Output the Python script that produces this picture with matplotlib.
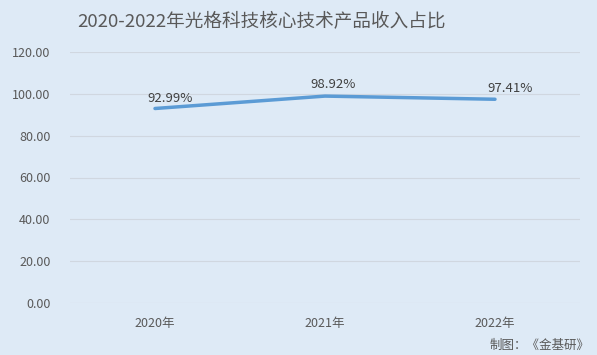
import matplotlib
matplotlib.use('Agg')
import matplotlib.pyplot as plt

plt.rcParams['font.family'] = ['Noto Sans CJK SC', 'DejaVu Sans']

years = ['2020年', '2021年', '2022年']
ratio = [92.99, 98.92, 97.41]
# data label offsets in pixels (x right, y up)
label_dx = [15, 8, 15]
label_dy = [10, 12, 11]
yticks = [0, 20, 40, 60, 80, 100, 120]

bg = '#DEEAF6'
txt = '#595959'

fig = plt.figure(figsize=(5.97, 3.55), dpi=100, facecolor=bg)
ax = fig.add_axes([70 / 597, 1 - 303 / 355, 510 / 597, 251 / 355])
ax.set_facecolor(bg)

x = range(len(years))
ax.plot(x, ratio, color='#5B9BD5', linewidth=2.5, solid_capstyle='round')
for i, v in enumerate(ratio):
    ax.annotate(f'{v:.2f}%', (i, v), xytext=(label_dx[i] * 0.72, label_dy[i] * 0.72),
                textcoords='offset points', ha='center', va='center',
                fontsize=9.5, color='#404040')

ax.set_xlim(-0.5, 2.5)
ax.set_ylim(0, 120)
ax.set_yticks(yticks)
ax.set_yticklabels([f'{t:.2f}' for t in yticks])
ax.set_xticks(list(x))
ax.set_xticklabels(years)
ax.tick_params(axis='both', length=0, labelsize=9, colors=txt)
ax.tick_params(axis='y', pad=14)
ax.tick_params(axis='x', pad=10)
ax.grid(axis='y', color='#D0D7E0', linewidth=0.8)
ax.set_axisbelow(True)
for s in ax.spines.values():
    s.set_visible(False)

fig.text(261 / 597, 1 - 22 / 355, '2020-2022年光格科技核心技术产品收入占比',
         ha='center', va='center', fontsize=13.4, color=txt)
fig.text(590 / 597, 1 - 345 / 355, '制图：《金基研》', ha='right', va='center',
         fontsize=9, color=txt)

fig.savefig('out.png', dpi=100, facecolor=bg)
